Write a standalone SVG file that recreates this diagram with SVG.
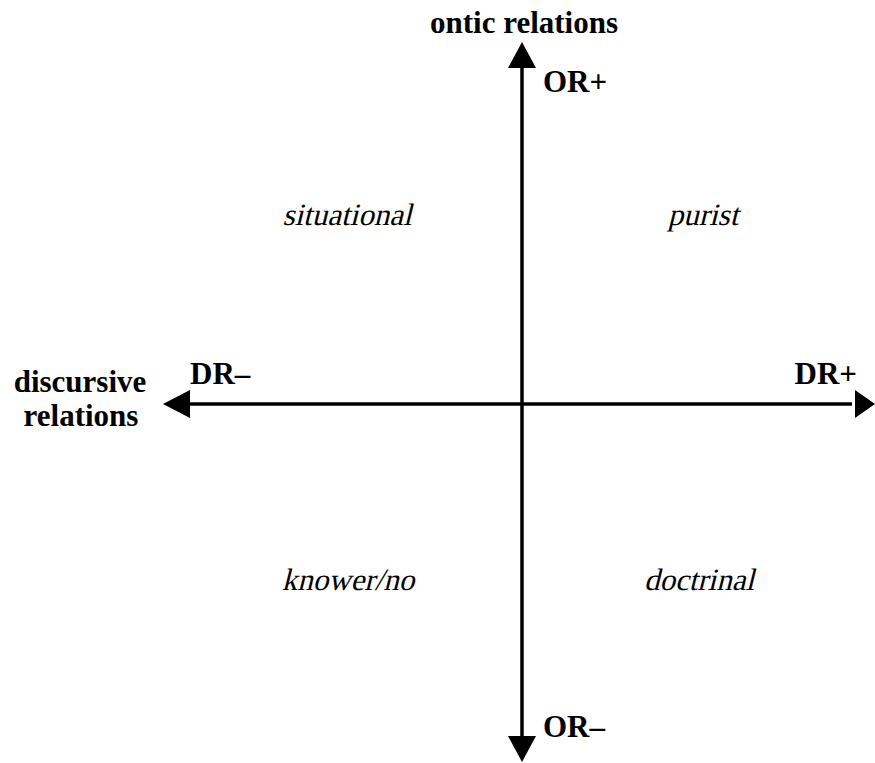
<svg xmlns="http://www.w3.org/2000/svg" width="875" height="763" viewBox="0 0 875 763">
<style>
.b{font-family:"Liberation Serif","Times New Roman",serif;font-weight:bold;font-size:31px;fill:#000}
.i{font-family:"Liberation Serif","Times New Roman",serif;font-size:31px;fill:#000;text-anchor:middle}
.ax{stroke:#000;stroke-width:3.5;fill:none}
</style>
<rect width="875" height="763" fill="#fff"/>
<g id="connectors">
<line class="ax" x1="522" y1="66" x2="522" y2="738"/>
<polygon points="522,42 508,68 536,68" fill="#000"/>
<polygon points="522,762 508,736 536,736" fill="#000"/>
<line class="ax" x1="188" y1="404" x2="852" y2="404"/>
<polygon points="163,404 190,390 190,418" fill="#000"/>
<polygon points="875,404 855,390 855,418" fill="#000"/>
</g>
<g id="ontic"><text class="b" x="524" y="33" text-anchor="middle">ontic relations</text></g>
<g id="orplus"><text class="b" x="543" y="92">OR+</text></g>
<g id="orminus"><text class="b" x="543" y="737">OR–</text></g>
<g id="discursive"><text class="b" x="80" y="392" text-anchor="middle">discursive</text><text class="b" x="81" y="426" text-anchor="middle">relations</text></g>
<g id="drminus"><text class="b" x="190" y="384">DR–</text></g>
<g id="drplus"><text class="b" x="857" y="384" text-anchor="end">DR+</text></g>
<g id="situational" transform="translate(347 225) skewX(-14)"><text class="i" x="0" y="0">situational</text></g>
<g id="purist" transform="translate(703 225) skewX(-14)"><text class="i" x="0" y="0">purist</text></g>
<g id="knower" transform="translate(348 590) skewX(-14)"><text class="i" x="0" y="0">knower/no</text></g>
<g id="doctrinal" transform="translate(699 590) skewX(-14)"><text class="i" x="0" y="0">doctrinal</text></g>
</svg>
